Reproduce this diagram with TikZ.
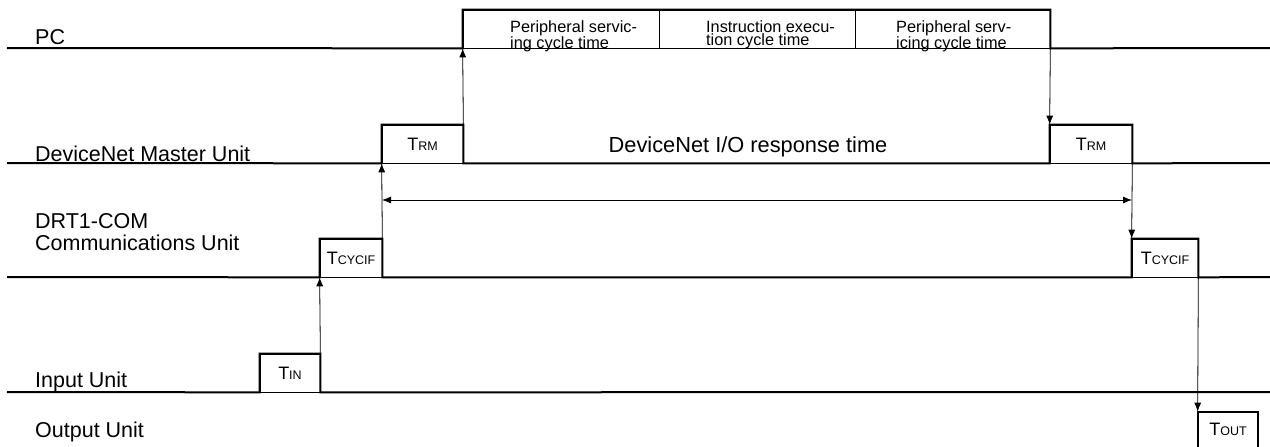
\documentclass[tikz,border=0pt]{standalone}
\usepackage{fontspec}
\setmainfont{Liberation Sans}
\usetikzlibrary{arrows.meta}
\newcommand\Tsub[1]{{\fontsize{18}{18}\selectfont T}{\fontsize{12.5}{12.5}\selectfont #1}}
\begin{document}
\begin{tikzpicture}[x=1pt,y=-1pt,
  thickline/.style={line width=2pt},
  arr/.style={line width=0.8pt,-{Latex[length=9pt,width=7pt]}},
  dblarr/.style={line width=0.8pt,{Latex[length=9pt,width=7pt]}-{Latex[length=9pt,width=7pt]}},
  lbl/.style={font=\fontsize{21.5}{22}\selectfont, anchor=base west, inner sep=0pt, align=left},
  pbox/.style={draw, line width=0.7pt, inner sep=0pt, rectangle, minimum height=38pt},
  small/.style={font=\fontsize{16.3}{13}\selectfont, align=left, anchor=north west, inner sep=0pt}
]
\clip (0,0) rectangle (1270,447);
\fill[white] (0,0) rectangle (1270,447);

% coordinates for line ends
\coordinate (pcL) at (7,48);   \coordinate (pcR) at (1270,48);
\coordinate (dmL) at (7,163);  \coordinate (dmR) at (1270,163);
\coordinate (drL) at (7,277);  \coordinate (drR) at (1270,277);
\coordinate (inL) at (7,392);  \coordinate (inR) at (1270,392);
\coordinate (dL) at (382,200); \coordinate (dR) at (1132,200);

% labels
\node[lbl] (lpc) at (35,45) {PC};
\node[lbl] (ldm) at (35,161) {DeviceNet Master Unit};
\node[lbl] (ldr) at (35,250) {DRT1-COM\\Communications Unit};
\node[lbl] (lin) at (35,387) {Input Unit};
\node[lbl] (lout) at (35,437) {Output Unit};

% PC pulse
\node[pbox, minimum width=196pt] (pcA) at (561,29) {};
\node[pbox, minimum width=196pt] (pcB) at (757,29) {};
\node[pbox, minimum width=195pt] (pcC) at (952.5,29) {};
\node[small] (t1) at (510,20) {Peripheral servic-\\ing cycle time};
\node[small] (t2) at (706,20) {Instruction execu-\\tion cycle time};
\node[small] (t3) at (896,20) {Peripheral serv-\\icing cycle time};
\draw[thickline] (pcL) -- (pcA.south west) |- (pcC.north east) -- (pcC.south east) -- (pcR);

% DeviceNet Master Unit
\node[pbox, minimum width=81pt] (trm1) at (422.5,144) {\Tsub{RM}};
\node[pbox, minimum width=82pt] (trm2) at (1091,144) {\Tsub{RM}};
\node[font=\fontsize{21.8}{22}\selectfont, anchor=base, inner sep=0pt] (resp) at (748,152) {DeviceNet I/O response time};
\draw[thickline] (dmL) -- (trm1.south west) |- (trm1.north east) -- (trm1.south east) -- (trm2.south west) |- (trm2.north east) -- (trm2.south east) -- (dmR);

% DRT1-COM
\node[pbox, minimum width=62pt] (tc1) at (351,258) {\Tsub{CYCIF}};
\node[pbox, minimum width=66pt] (tc2) at (1165,258) {\Tsub{CYCIF}};
\draw[thickline] (drL) -- (tc1.south west) |- (tc1.north east) -- (tc1.south east) -- (tc2.south west) |- (tc2.north east) -- (tc2.south east) -- (drR);

% Input Unit
\node[pbox, minimum width=60pt] (tin) at (290,373) {\Tsub{IN}};
\draw[thickline] (inL) -- (tin.south west) |- (tin.north east) -- (tin.south east) -- (inR);

% Output Unit
\node[pbox, minimum width=60pt, minimum height=40pt] (tout) at (1228,432) {};
\node[inner sep=0pt] (toutt) at (1228,429) {\Tsub{OUT}};
\draw[thickline] (tout.south west) |- (tout.north east) -- (tout.south east);

% arrows
\draw[arr] (trm1.north east) -- (pcA.south west);
\draw[arr] (pcC.south east) -- (trm2.north west);
\draw[arr] (tc1.north east) -- (trm1.south west);
\draw[arr] (trm2.south east) -- (tc2.north west);
\draw[arr] (tin.north east) -- (tc1.south west);
\draw[arr] (tc2.south east) -- (tout.north west);
\draw[dblarr] (dL) -- (dR);
\end{tikzpicture}
\end{document}
